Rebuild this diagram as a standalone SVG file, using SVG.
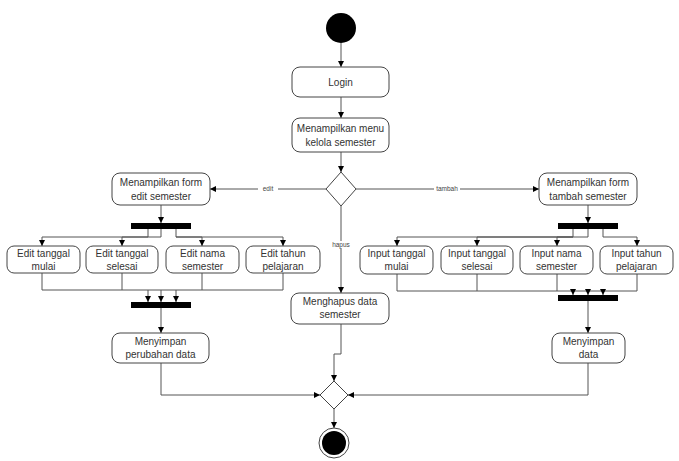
<svg xmlns="http://www.w3.org/2000/svg" width="679" height="461" viewBox="0 0 679 461">
<style>
.box{fill:#fff;stroke:#444;stroke-width:1}
.t{font-family:"Liberation Sans",Arial,sans-serif;font-size:10px;fill:#333;text-anchor:middle}
.lbl{font-family:"Liberation Sans",Arial,sans-serif;font-size:6.5px;fill:#444;text-anchor:middle}
.ln{fill:none;stroke:#555;stroke-width:1}
.bar{fill:#000}
</style>
<defs>
<marker id="a" viewBox="0 0 8 8" refX="8" refY="4" markerWidth="6" markerHeight="6" orient="auto" markerUnits="userSpaceOnUse">
<path d="M0,0 L8,4 L0,8 Z" fill="#000"/>
</marker>
</defs>
<rect width="679" height="461" fill="#fff"/>
<g id="connectors">
<path class="ln" d="M341,43 V67" marker-end="url(#a)"/>
<path class="ln" d="M341,97 V118" marker-end="url(#a)"/>
<path class="ln" d="M341,152 V172" marker-end="url(#a)"/>
<path class="ln" d="M326,189 H210" marker-end="url(#a)"/>
<path class="ln" d="M356,189 H539" marker-end="url(#a)"/>
<path class="ln" d="M341,206 V293" marker-end="url(#a)"/>
<path class="ln" d="M161,205 V223" marker-end="url(#a)"/>
<path class="ln" d="M148,229 V237 H42 V246" marker-end="url(#a)"/>
<path class="ln" d="M161,229 V237 H122 V246" marker-end="url(#a)"/>
<path class="ln" d="M176,229 V237 H202 V246" marker-end="url(#a)"/>
<path class="ln" d="M176,237 H283 V246" marker-end="url(#a)"/>
<path class="ln" d="M42,273 V290 H283 V273"/>
<path class="ln" d="M122,273 V290"/>
<path class="ln" d="M202,273 V290"/>
<path class="ln" d="M148,290 V302" marker-end="url(#a)"/>
<path class="ln" d="M161,290 V302" marker-end="url(#a)"/>
<path class="ln" d="M176,290 V302" marker-end="url(#a)"/>
<path class="ln" d="M161,308 V333" marker-end="url(#a)"/>
<path class="ln" d="M161,363 V395 H320" marker-end="url(#a)"/>
<path class="ln" d="M588,205 V223" marker-end="url(#a)"/>
<path class="ln" d="M573,229 V237 H397 V246" marker-end="url(#a)"/>
<path class="ln" d="M588,229 V237 H477 V246" marker-end="url(#a)"/>
<path class="ln" d="M603,229 V237 H637 V246" marker-end="url(#a)"/>
<path class="ln" d="M573,237 H557 V246" marker-end="url(#a)"/>
<path class="ln" d="M397,274 V291 H637 V274"/>
<path class="ln" d="M477,274 V291"/>
<path class="ln" d="M557,274 V291"/>
<path class="ln" d="M573,291 V295" marker-end="url(#a)"/>
<path class="ln" d="M588,291 V295" marker-end="url(#a)"/>
<path class="ln" d="M603,291 V295" marker-end="url(#a)"/>
<path class="ln" d="M588,301 V333" marker-end="url(#a)"/>
<path class="ln" d="M588,363 V395 H348" marker-end="url(#a)"/>
<path class="ln" d="M341,324 V354 H334 V381" marker-end="url(#a)"/>
<path class="ln" d="M334,409 V428" marker-end="url(#a)"/>
<rect x="258" y="186" width="20" height="6" fill="#fff"/>
<text class="lbl" x="268" y="191">edit</text>
<rect x="434" y="186" width="26" height="6" fill="#fff"/>
<text class="lbl" x="447" y="191">tambah</text>
<rect x="334" y="241" width="14" height="7" fill="#fff"/>
<text class="lbl" x="341" y="247">hapus</text>
</g>
<g id="start"><circle cx="341" cy="28" r="15" fill="#000"/></g>
<g id="login"><rect class="box" x="292" y="67" width="97" height="30" rx="8"/><text class="t" x="340.5" y="86">Login</text></g>
<g id="menu"><rect class="box" x="292" y="118" width="97" height="34" rx="8"/><text class="t" x="340.5" y="132">Menampilkan menu</text><text class="t" x="340.5" y="146">kelola semester</text></g>
<g id="decision"><path class="box" d="M341,172 L356,189 L341,206 L326,189 Z"/></g>
<g id="formEdit"><rect class="box" x="112" y="173" width="98" height="32" rx="8"/><text class="t" x="161" y="186">Menampilkan form</text><text class="t" x="161" y="200">edit semester</text></g>
<g id="forkEdit"><rect class="bar" x="131" y="223" width="60" height="6"/></g>
<g id="editMulai"><rect class="box" x="7" y="246" width="73" height="27" rx="7"/><text class="t" x="43.5" y="257">Edit tanggal</text><text class="t" x="43.5" y="270">mulai</text></g>
<g id="editSelesai"><rect class="box" x="86" y="246" width="72" height="27" rx="7"/><text class="t" x="122" y="257">Edit tanggal</text><text class="t" x="122" y="270">selesai</text></g>
<g id="editNama"><rect class="box" x="166" y="246" width="73" height="27" rx="7"/><text class="t" x="202.5" y="257">Edit nama</text><text class="t" x="202.5" y="270">semester</text></g>
<g id="editTahun"><rect class="box" x="246" y="246" width="74" height="27" rx="7"/><text class="t" x="283" y="257">Edit tahun</text><text class="t" x="283" y="270">pelajaran</text></g>
<g id="joinEdit"><rect class="bar" x="131" y="302" width="60" height="6"/></g>
<g id="simpanEdit"><rect class="box" x="112" y="333" width="97" height="30" rx="8"/><text class="t" x="160.5" y="345">Menyimpan</text><text class="t" x="160.5" y="358">perubahan data</text></g>
<g id="hapus"><rect class="box" x="291" y="293" width="98" height="31" rx="8"/><text class="t" x="340" y="305">Menghapus data</text><text class="t" x="340" y="318">semester</text></g>
<g id="formTambah"><rect class="box" x="539" y="173" width="98" height="32" rx="8"/><text class="t" x="588" y="186">Menampilkan form</text><text class="t" x="588" y="200">tambah semester</text></g>
<g id="forkTambah"><rect class="bar" x="558" y="223" width="60" height="6"/></g>
<g id="inputMulai"><rect class="box" x="360" y="246" width="73" height="28" rx="7"/><text class="t" x="396.5" y="257">Input tanggal</text><text class="t" x="396.5" y="270">mulai</text></g>
<g id="inputSelesai"><rect class="box" x="441" y="246" width="72" height="28" rx="7"/><text class="t" x="477" y="257">Input tanggal</text><text class="t" x="477" y="270">selesai</text></g>
<g id="inputNama"><rect class="box" x="520" y="246" width="73" height="28" rx="7"/><text class="t" x="556.5" y="257">Input nama</text><text class="t" x="556.5" y="270">semester</text></g>
<g id="inputTahun"><rect class="box" x="600" y="246" width="73" height="28" rx="7"/><text class="t" x="636.5" y="257">Input tahun</text><text class="t" x="636.5" y="270">pelajaran</text></g>
<g id="joinTambah"><rect class="bar" x="558" y="295" width="60" height="6"/></g>
<g id="simpanTambah"><rect class="box" x="552" y="333" width="73" height="30" rx="8"/><text class="t" x="588.5" y="345">Menyimpan</text><text class="t" x="588.5" y="358">data</text></g>
<g id="merge"><path class="box" d="M334,381 L348,395 L334,409 L320,395 Z"/></g>
<g id="end"><circle cx="334" cy="443" r="15" fill="#fff" stroke="#444" stroke-width="1"/><circle cx="334" cy="443" r="12" fill="#000"/></g>
</svg>
